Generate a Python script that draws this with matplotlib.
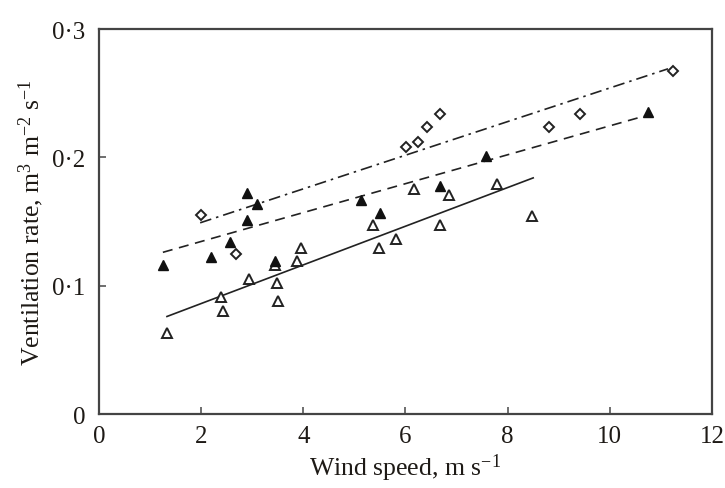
import matplotlib
matplotlib.use("Agg")
import matplotlib.pyplot as plt

# open triangles
open_x = [1.33, 2.39, 2.43, 2.94, 3.45, 3.48, 3.50, 3.88, 3.95,
          5.36, 5.48, 5.81, 6.17, 6.85, 6.68, 7.79, 8.48]
open_y = [0.063, 0.091, 0.080, 0.105, 0.116, 0.102, 0.088, 0.119, 0.129,
          0.147, 0.129, 0.136, 0.175, 0.171, 0.147, 0.179, 0.154]

# filled triangles
fill_x = [1.25, 2.19, 2.56, 2.90, 3.09, 2.90, 3.45, 5.13, 5.50, 6.68, 7.58, 10.75]
fill_y = [0.116, 0.122, 0.134, 0.172, 0.164, 0.151, 0.119, 0.167, 0.157,
          0.178, 0.201, 0.235]

# diamonds
dia_x = [2.0, 2.68, 6.01, 6.25, 6.42, 6.68, 8.81, 9.42, 11.24]
dia_y = [0.155, 0.125, 0.208, 0.212, 0.224, 0.234, 0.224, 0.234, 0.267]

# fitted lines (end points)
solid_x, solid_y = [1.33, 8.5], [0.076, 0.184]
dash_x, dash_y = [1.25, 10.75], [0.126, 0.233]
dashdot_x, dashdot_y = [1.98, 11.14], [0.149, 0.269]

xticks = [0, 2, 4, 6, 8, 10, 12]
yticks = [0, 0.1, 0.2, 0.3]
ytick_labels = ['0', '0\u00b71', '0\u00b72', '0\u00b73']

plt.rcParams['font.family'] = ['Liberation Serif', 'DejaVu Serif']
plt.rcParams['mathtext.fontset'] = 'custom'
plt.rcParams['mathtext.rm'] = 'Liberation Serif'
plt.rcParams['mathtext.it'] = 'Liberation Serif:italic'

txt = '#1e1a16'

fig = plt.figure(figsize=(7.25, 4.89), dpi=100)
ax = fig.add_axes([0.1366, 0.1513, 0.8454, 0.7873])

# Lines
ax.plot(solid_x, solid_y, color='#222222', lw=1.2, ls='-')
ax.plot(dash_x, dash_y, color='#222222', lw=1.2, ls=(0, (6, 4)))
ax.plot(dashdot_x, dashdot_y, color='#222222', lw=1.2, ls=(0, (7, 3, 1.5, 3)))

# Points
ax.plot(open_x, open_y, ls='none', marker='^', ms=7, mfc='white',
        mec='#222222', mew=1.4)
ax.plot(fill_x, fill_y, ls='none', marker='^', ms=7.5, mfc='#111111',
        mec='#111111')
ax.plot(dia_x, dia_y, ls='none', marker='D', ms=5, mfc='white',
        mec='#222222', mew=1.4)

ax.set_xlim(0, 12)
ax.set_ylim(0, 0.3)
ax.set_xticks(xticks)
ax.set_yticks(yticks)
ax.set_yticklabels(ytick_labels)

ax.tick_params(direction='in', length=5, width=1.2, color='#555555',
               labelsize=18, labelcolor=txt)
ax.tick_params(axis='x', pad=8)
ax.tick_params(axis='y', pad=10)
for s in ax.spines.values():
    s.set_linewidth(1.6)
    s.set_color('#444444')

ax.set_xlabel('Wind speed, m s$^{-1}$', fontsize=18.5, color=txt, labelpad=3)
ax.set_ylabel('Ventilation rate, m$^{3}$ m$^{-2}$ s$^{-1}$', fontsize=18.5,
              color=txt, labelpad=4)

fig.savefig('out.png', dpi=100)
